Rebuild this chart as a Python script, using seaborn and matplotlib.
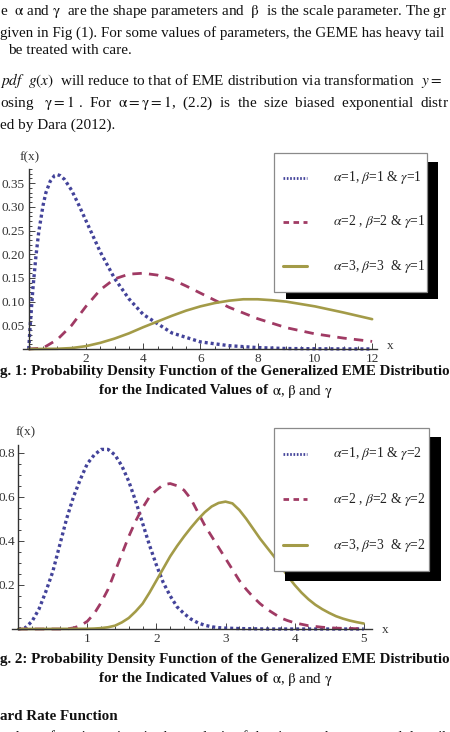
import numpy as np
import pandas as pd
import seaborn as sns
import matplotlib.pyplot as plt
from matplotlib.lines import Line2D
from matplotlib.patches import Rectangle
from matplotlib.ticker import MultipleLocator

# ---------------- data ----------------
# Fig. 1 : gamma = 1
f1_x_a = [0, 0.05, 0.1, 0.15, 0.25, 0.35, 0.5, 0.6, 0.75, 0.9, 1.0, 1.1, 1.25, 1.5, 1.75, 2.0, 2.5, 3.0, 3.5, 4.0, 5.0, 6.0, 7.0, 8.0, 9.0, 10.0, 11.0, 12.0]
f1_y_a = [0, 0.048, 0.09, 0.13, 0.195, 0.247, 0.303, 0.33, 0.354, 0.366, 0.368, 0.366, 0.358, 0.335, 0.304, 0.271, 0.205, 0.149, 0.106, 0.073, 0.034, 0.015, 0.007, 0.003, 0.001, 0.0005, 0.0002, 0.0001]
f1_x_b = [0, 0.5, 1.0, 1.5, 2.0, 2.5, 3.0, 3.5, 4.0, 4.5, 5.0, 5.5, 6.0, 7.0, 8.0, 9.0, 10.0, 11.0, 12.0]
f1_y_b = [0, 0.002, 0.02, 0.05, 0.09, 0.125, 0.148, 0.158, 0.16, 0.156, 0.147, 0.133, 0.118, 0.088, 0.064, 0.045, 0.032, 0.023, 0.016]
f1_x_c = [0, 1.0, 1.5, 2.0, 2.5, 3.0, 3.5, 4.0, 4.5, 5.0, 5.5, 6.0, 6.5, 7.0, 7.5, 8.0, 8.5, 9.0, 10.0, 11.0, 12.0]
f1_y_c = [0, 0.0005, 0.002, 0.006, 0.013, 0.022, 0.033, 0.046, 0.058, 0.07, 0.081, 0.09, 0.097, 0.102, 0.105, 0.105, 0.103, 0.1, 0.09, 0.077, 0.063]

# Fig. 2 : gamma = 2
f2_x_a = [0, 0.1, 0.2, 0.3, 0.4, 0.5, 0.6, 0.7, 0.8, 0.9, 1.0, 1.1, 1.2, 1.3, 1.4, 1.5, 1.6, 1.7, 1.8, 1.9,
          2.0, 2.1, 2.2, 2.3, 2.4, 2.5, 2.6, 2.7, 2.8, 2.9, 3.0, 3.2, 3.4, 3.6, 4.0, 5.0]
f2_y_a = [0, 0.005, 0.035, 0.09, 0.17, 0.26, 0.38, 0.5, 0.6, 0.68, 0.75, 0.79, 0.815, 0.815, 0.79, 0.74, 0.67, 0.58, 0.48, 0.38,
          0.29, 0.21, 0.15, 0.1, 0.07, 0.045, 0.028, 0.017, 0.01, 0.006, 0.004, 0.002, 0.001, 0, 0, 0]
f2_x_b = [0, 0.7, 0.8, 0.9, 1.0, 1.1, 1.2, 1.3, 1.4, 1.5, 1.6, 1.7, 1.8, 1.9, 2.0, 2.1, 2.2, 2.3, 2.4, 2.5,
          2.6, 2.7, 2.8, 2.9, 3.0, 3.1, 3.2, 3.3, 3.4, 3.5, 3.6, 3.7, 3.8, 3.9, 4.0, 4.2, 4.4, 4.6, 4.8, 5.0]
f2_y_b = [0, 0, 0.005, 0.015, 0.035, 0.07, 0.12, 0.18, 0.26, 0.34, 0.42, 0.49, 0.55, 0.6, 0.63, 0.655, 0.66, 0.65, 0.63, 0.59,
          0.53, 0.47, 0.42, 0.37, 0.32, 0.27, 0.22, 0.18, 0.145, 0.115, 0.09, 0.07, 0.05, 0.038, 0.028, 0.015, 0.008, 0.004, 0.002, 0.001]
f2_x_c = [0, 1.0, 1.1, 1.2, 1.3, 1.4, 1.5, 1.6, 1.7, 1.8, 1.9, 2.0, 2.1, 2.2, 2.3, 2.4, 2.5, 2.6, 2.7, 2.8, 2.9,
          3.0, 3.1, 3.2, 3.3, 3.4, 3.5, 3.6, 3.7, 3.8, 3.9, 4.0, 4.1, 4.2, 4.3, 4.4, 4.5, 4.6, 4.7, 4.8, 4.9, 5.0]
f2_y_c = [0, 0.001, 0.002, 0.004, 0.008, 0.015, 0.03, 0.05, 0.08, 0.115, 0.165, 0.22, 0.275, 0.33, 0.377, 0.42, 0.46, 0.497, 0.53, 0.556, 0.572,
          0.578, 0.57, 0.54, 0.5, 0.455, 0.41, 0.37, 0.33, 0.285, 0.24, 0.2, 0.165, 0.135, 0.11, 0.09, 0.073, 0.058, 0.047, 0.038, 0.031, 0.025]

legend1 = [r'$\alpha$=1, $\beta$=1 & $\gamma$=1', r'$\alpha$=2 , $\beta$=2 & $\gamma$=1', r'$\alpha$=3, $\beta$=3  & $\gamma$=1']
legend2 = [r'$\alpha$=1, $\beta$=1 & $\gamma$=2', r'$\alpha$=2 , $\beta$=2 & $\gamma$=2', r'$\alpha$=3, $\beta$=3  & $\gamma$=2']

f1_yticks = [0.05, 0.10, 0.15, 0.20, 0.25, 0.30, 0.35]
f1_xticks = [2, 4, 6, 8, 10, 12]
f2_yticks = [0.2, 0.4, 0.6, 0.8]
f2_xticks = [1, 2, 3, 4, 5]

# ---------------- style ----------------
sns.set_theme(style='white')
plt.rcParams['font.family'] = ['Liberation Serif', 'DejaVu Serif']
plt.rcParams['mathtext.fontset'] = 'stix'

C_BLUE = '#43439a'
C_RED = '#a03a64'
C_OLIVE = '#a39b48'
DOT = (0, (0.9, 0.9))
DASH = (0, (3.4, 2.6))

W, H = 450, 732
fig = plt.figure(figsize=(W / 100, H / 100), dpi=100)


def fx(x):
    return x / W


def fy(y):
    return 1 - y / H


def axes_px(x0, x1, y_top, y_bot):
    return fig.add_axes([fx(x0), fy(y_bot), (x1 - x0) / W, (y_bot - y_top) / H])


def style_axes(ax, xmaj, xmin, ymaj, ymin, xlim, ylim, ylabfmt, ypad):
    ax.set_xlim(*xlim)
    ax.set_ylim(*ylim)
    for s in ['top', 'right']:
        ax.spines[s].set_visible(False)
    ax.spines['left'].set_position(('data', 0))
    ax.spines['bottom'].set_position(('data', 0))
    for s in ['left', 'bottom']:
        ax.spines[s].set_color('#333333')
        ax.spines[s].set_linewidth(1.0)
    ax.set_xticks(xmaj)
    ax.set_yticks(ymaj)
    ax.set_yticklabels([ylabfmt.format(v) for v in ymaj])
    ax.xaxis.set_minor_locator(MultipleLocator(xmin))
    ax.yaxis.set_minor_locator(MultipleLocator(ymin))
    ax.tick_params(which='both', direction='in', color='#444444', width=0.7,
                   labelsize=9.5, labelcolor='#333333', bottom=True, left=True)
    ax.tick_params(which='major', length=4.5)
    ax.tick_params(which='minor', length=2.2)
    ax.tick_params(axis='x', pad=3)
    ax.tick_params(axis='y', pad=ypad)
    ax.set_xlabel('')
    ax.set_ylabel('')
    ax.patch.set_alpha(0)
    ax.grid(False)


def draw_curves(ax, series):
    for xs, ys, col, ls, lw in series:
        df = pd.DataFrame({'x': xs, 'y': ys})
        sns.lineplot(data=df, x='x', y='y', ax=ax, color=col, linewidth=lw,
                     estimator=None, sort=False, clip_on=False)
        ln = ax.lines[-1]
        ln.set_linestyle(ls)
        ln.set_dash_capstyle('butt')
        ln.set_solid_joinstyle('round')


def draw_legend(box, shadow, rows, labels):
    sx0, sy0, sx1, sy1 = shadow
    fig.add_artist(Rectangle((fx(sx0), fy(sy1)), (sx1 - sx0) / W, (sy1 - sy0) / H,
                             transform=fig.transFigure, facecolor='black', edgecolor='none', zorder=5))
    bx0, by0, bx1, by1 = box
    fig.add_artist(Rectangle((fx(bx0), fy(by1)), (bx1 - bx0) / W, (by1 - by0) / H,
                             transform=fig.transFigure, facecolor='white', edgecolor='#8a8a8a',
                             linewidth=0.9, zorder=6))
    specs = [(C_BLUE, (0, (0.6, 0.6)), 2.0), (C_RED, (0, (2.0, 1.6)), 2.0), (C_OLIVE, '-', 2.2)]
    for (yr, lab, (col, ls, lw)) in zip(rows, labels, specs):
        fig.add_artist(Line2D([fx(bx0 + 9), fx(bx0 + 33)], [fy(yr), fy(yr)], transform=fig.transFigure,
                              color=col, linestyle=ls, linewidth=lw, zorder=7, dash_capstyle='butt'))
        fig.text(fx(bx0 + 59), fy(yr), lab, fontsize=9.8, color='#222222', va='center', ha='left', zorder=7)


# ---------------- Fig. 1 ----------------
ax1 = axes_px(23, 377, 169, 349)
draw_curves(ax1, [(f1_x_a, f1_y_a, C_BLUE, DOT, 2.4),
                  (f1_x_b, f1_y_b, C_RED, DASH, 2.0),
                  (f1_x_c, f1_y_c, C_OLIVE, '-', 1.9)])
style_axes(ax1, f1_xticks, 0.5, f1_yticks, 0.01, (-0.2, 12.17), (0, 0.38), '{:.2f}', 3)
fig.text(fx(30), fy(157), 'f(x)', fontsize=9.5, color='#333333', ha='center', va='center')
fig.text(fx(390), fy(346), 'x', fontsize=9.5, color='#333333', ha='center', va='center')
draw_legend((274, 153, 427, 292), (286, 162, 438, 299), [178, 222, 266], legend1)

# ---------------- Fig. 2 ----------------
ax2 = axes_px(12, 372, 445, 629)
draw_curves(ax2, [(f2_x_a, f2_y_a, C_BLUE, DOT, 2.4),
                  (f2_x_b, f2_y_b, C_RED, DASH, 2.0),
                  (f2_x_c, f2_y_c, C_OLIVE, '-', 1.9)])
style_axes(ax2, f2_xticks, 0.2, f2_yticks, 0.05, (-0.09, 5.12), (0, 0.835), '{:.1f}', 2)
fig.text(fx(26), fy(432), 'f(x)', fontsize=9.5, color='#333333', ha='center', va='center')
fig.text(fx(385), fy(630), 'x', fontsize=9.5, color='#333333', ha='center', va='center')
draw_legend((274, 428, 429, 571), (285, 437, 441, 581), [454, 499, 545], legend2)

# ---------------- page text ----------------
body_lines = [
    (0, 12, 11, r'e  $\mathrm{\alpha}$ and $\mathrm{\gamma}$  are the shape parameters and  $\mathrm{\beta}$  is the scale parameter. The gr'),
    (0, 33, 10.85, 'given in Fig (1). For some values of parameters, the GEME has heavy tail'),
    (8, 50, 11, 'be treated with care.'),
    (0, 80, 11, r'$pdf\ \ g\left(x\right)$  will reduce to that of EME distribution via transformation  $y =$'),
    (0, 103, 11, r'osing   $\mathrm{\gamma} = 1$ .  For  $\mathrm{\alpha} = \mathrm{\gamma} = 1$,  (2.2)  is  the  size  biased  exponential  distr'),
    (0, 125, 11, 'ed by Dara (2012).'),
]
for x, y, fs, t in body_lines:
    fig.text(fx(x), fy(y), t, fontsize=fs, color='#111111', ha='left', va='center')

CAP = 10.8
for ycap, num in [(372, 1), (660, 2)]:
    fig.text(fx(0), fy(ycap), f'g. {num}: Probability Density Function of the Generalized EME Distributio',
             fontsize=CAP, fontweight='bold', color='#111111', ha='left', va='center')
    fig.text(fx(268), fy(ycap + 19), 'for the Indicated Values of', fontsize=CAP, fontweight='bold',
             color='#111111', ha='right', va='center')
    fig.text(fx(272), fy(ycap + 19), r'$\mathrm{\alpha}$, $\mathrm{\beta}$ and $\mathrm{\gamma}$',
             fontsize=CAP, color='#111111', ha='left', va='center')

fig.text(fx(0), fy(717), 'ard Rate Function', fontsize=CAP, fontweight='bold', color='#111111',
         ha='left', va='center')
fig.text(fx(0), fy(737), 'ard rate function arises in the analysis of the time to the event and describ',
         fontsize=11, color='#111111', ha='left', va='center')

fig.savefig('out.png', dpi=100, facecolor='white')
